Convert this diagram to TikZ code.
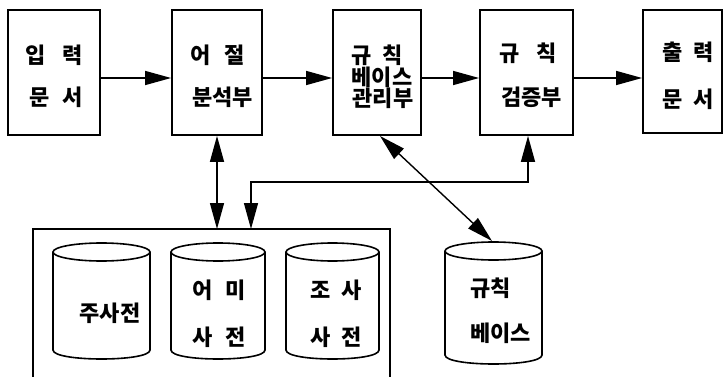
\documentclass[tikz,border=0pt]{standalone}
\usepackage{fontspec}
\newfontfamily\kr{Noto Sans CJK KR}
\usetikzlibrary{arrows.meta}
\begin{document}
\begin{tikzpicture}[x=1pt,y=-1pt,
  box/.style={draw,line width=1.8pt,inner sep=0pt},
  lbl/.style={font=\fontsize{22}{24}\selectfont\kr\bfseries,inner sep=0pt,anchor=center},
  conn/.style={line width=1.4pt},
  tip/.style={-{Triangle[length=26pt,width=14pt]}},
  tips/.style={{Triangle[length=26pt,width=14pt]}-{Triangle[length=26pt,width=14pt]}},
  cylline/.style={line width=1.6pt}]
\useasboundingbox (0,0) rectangle (725,377);
% top boxes
\node[box,minimum width=92pt,minimum height=125pt] (b1) at (54,72.5) {};
\node[box,minimum width=90pt,minimum height=125pt] (b2) at (217,72.5) {};
\node[box,minimum width=88pt,minimum height=125pt] (b3) at (377,72.5) {};
\node[box,minimum width=93pt,minimum height=125pt] (b4) at (526.5,72.5) {};
\node[box,minimum width=79pt,minimum height=123pt] (b5) at (682.5,71.5) {};
% labels
\node[lbl] (t1a) at (54,55) {입\hspace{0.73em}력};
\node[lbl] (t1b) at (56,97) {문\hspace{0.55em}서};
\node[lbl] (t2a) at (217.5,55) {어\hspace{0.6em}절};
\node[lbl] (t2b) at (222.5,97) {분석부};
\node[lbl] (t3a) at (377,55) {규\hspace{0.5em}칙};
\node[lbl] (t3b) at (382,77) {베이스};
\node[lbl] (t3c) at (383,98) {관리부};
\node[lbl] (t4a) at (528.5,53) {규\hspace{0.77em}칙};
\node[lbl] (t4b) at (531.5,97) {검증부};
\node[lbl] (t5a) at (688,52) {출\hspace{0.5em}력};
\node[lbl] (t5b) at (688,99) {문\hspace{0.5em}서};
% horizontal arrows
\coordinate (ay) at (0,78);
\draw[conn,tip] (b1.east |- ay) -- (b2.west |- ay);
\draw[conn,tip] (b2.east |- ay) -- (b3.west |- ay);
\draw[conn,tip] (b3.east |- ay) -- (b4.west |- ay);
\draw[conn,tip] (b4.east |- ay) -- (b5.west |- ay);
% dictionary container
\draw[line width=1.3pt] (33,377) -- (33,229) -- (390,229) -- (390,377);
\coordinate (c1) at (217,229);
\coordinate (c2) at (251,229);
\coordinate (bend) at (528,182);
\draw[conn,tips] (b2.south) -- (c1);
\draw[conn,tips] (c2) |- (bend) -- (b4.south -| bend);
% cylinders
\foreach \n/\L/\R/\T/\B in {cy1/53/150/243/350, cy2/171/265/243/350, cy3/286/379/243/350, cy4/445/542/242/355}{
  \pgfmathsetmacro\cx{(\L+\R)/2}
  \pgfmathsetmacro\rx{(\R-\L)/2}
  \draw[cylline] (\cx,\T+9) ellipse[x radius=\rx pt,y radius=9pt];
  \draw[cylline] (\L,\T+9) -- (\L,\B) .. controls (\L,\B+12) and (\R,\B+12) .. (\R,\B) -- (\R,\T+9);
  \coordinate (\n) at (\cx,\T);
}
\node[lbl] (d1) at (110,313) {주사전};
\node[lbl] (d2a) at (219,290) {어\hspace{0.55em}미};
\node[lbl] (d2b) at (219,337) {사\hspace{0.55em}전};
\node[lbl] (d3a) at (336,290) {조\hspace{0.5em}사};
\node[lbl] (d3b) at (336,337) {사\hspace{0.5em}전};
\node[lbl,anchor=west] (d4a) at (470,288) {규칙};
\node[lbl,anchor=west] (d4b) at (470,333) {베이스};
% diagonal
\coordinate (dg) at (380,136);
\draw[conn,tips] (dg) -- (492,241);
\end{tikzpicture}
\end{document}
